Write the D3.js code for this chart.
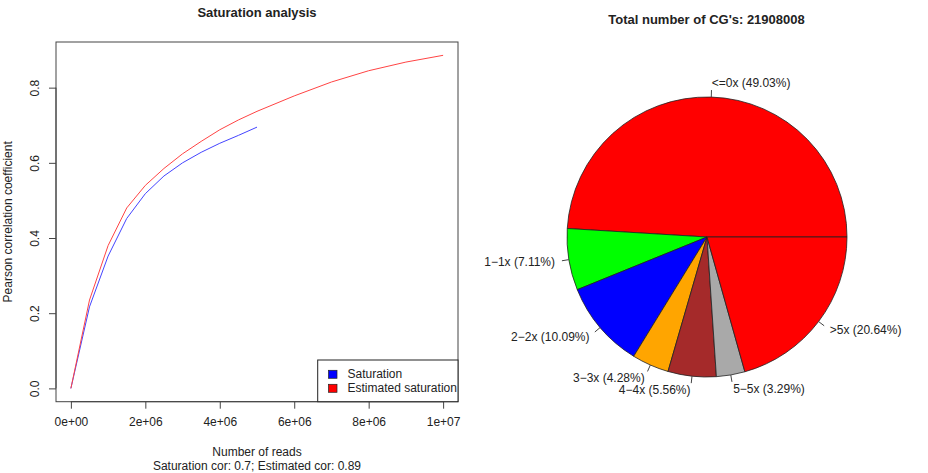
<!DOCTYPE html>
<html>
<head>
<meta charset="utf-8">
<script src="https://cdn.jsdelivr.net/npm/d3@7"></script>
<style>
  body { margin: 0; background: #fff; }
  svg text { font-family: "Liberation Sans", Arial, sans-serif; fill: #222; }
</style>
</head>
<body>
<div id="chart"></div>
<script>
// Saturation curves
const satReads = [0, 5e5, 1e6, 1.5e6, 2e6, 2.5e6, 3e6, 3.5e6, 4e6, 4.5e6, 5e6];
const satCor = [0, 0.217, 0.352, 0.452, 0.518, 0.565, 0.6, 0.628, 0.652, 0.673, 0.695];
const estReads = [0, 5e5, 1e6, 1.5e6, 2e6, 2.5e6, 3e6, 3.5e6, 4e6, 4.5e6, 5e6, 6e6, 7e6, 8e6, 9e6, 1e7];
const estCor = [0, 0.235, 0.38, 0.48, 0.54, 0.585, 0.624, 0.657, 0.688, 0.714, 0.737, 0.778, 0.815, 0.845, 0.868, 0.886];
const xTicks = [0, 2e6, 4e6, 6e6, 8e6, 1e7];
const xTickLabels = ['0e+00', '2e+06', '4e+06', '6e+06', '8e+06', '1e+07'];
const yTicks = [0, 0.2, 0.4, 0.6, 0.8];
const yTickLabels = ['0.0', '0.2', '0.4', '0.6', '0.8'];
const legendLabels = ['Saturation', 'Estimated saturation'];
const legendColors = ['#0000ff', '#ff0000'];

// Coverage pie
const pieLabels = ['<=0x', '1\u22121x', '2\u22122x', '3\u22123x', '4\u22124x', '5\u22125x', '>5x'];
const piePercents = [49.03, 7.11, 10.09, 4.28, 5.56, 3.29, 20.64];
const pieColors = ['#ff0000', '#00ff00', '#0000ff', '#ffa500', '#a52a2a', '#a9a9a9', '#ff0000'];
const totalCG = 21908008;

const width = 928, height = 473;
const svg = d3.select('#chart').append('svg')
  .attr('width', width)
  .attr('height', height);

// ---- Left panel: saturation analysis
const box = { left: 56, right: 458, top: 42, bottom: 401.7 };

// R style: 4% padding on the data range
const xMax = d3.max(estReads), yMax = d3.max(estCor);
const x = d3.scaleLinear()
  .domain([-0.04 * xMax, xMax * 1.04])
  .range([box.left, box.right]);
const y = d3.scaleLinear()
  .domain([-0.04 * yMax, yMax * 1.04])
  .range([box.bottom, box.top]);

const left = svg.append('g');

left.append('text')
  .attr('x', (box.left + box.right) / 2)
  .attr('y', 17)
  .attr('text-anchor', 'middle')
  .style('font-size', '13px')
  .style('font-weight', 'bold')
  .text('Saturation analysis');

// x axis
const xAxis = d3.axisBottom(x)
  .tickValues(xTicks)
  .tickSize(7)
  .tickPadding(9)
  .tickFormat((d, i) => xTickLabels[i]);
const gx = left.append('g')
  .attr('transform', `translate(0,${box.bottom})`)
  .call(xAxis);
gx.select('.domain').attr('d', `M${x(0)},0H${x(1e7)}`).attr('stroke', '#444');
gx.selectAll('line').attr('stroke', '#444');
gx.selectAll('text').style('font-size', '12px').style('font-family', '"Liberation Sans", Arial, sans-serif').attr('fill', '#222');

// y axis
const yAxis = d3.axisLeft(y)
  .tickValues(yTicks)
  .tickSize(7)
  .tickFormat((d, i) => yTickLabels[i]);
const gy = left.append('g')
  .attr('transform', `translate(${box.left},0)`)
  .call(yAxis);
gy.select('.domain').attr('d', `M0,${y(0)}V${y(0.8)}`).attr('stroke', '#444');
gy.selectAll('line').attr('stroke', '#444');
gy.selectAll('text')
  .attr('x', null).attr('dy', null)
  .attr('transform', 'translate(-21,0) rotate(-90)')
  .attr('text-anchor', 'middle')
  .attr('dominant-baseline', 'central')
  .attr('fill', '#222')
  .style('font-size', '12px')
  .style('font-family', '"Liberation Sans", Arial, sans-serif');

// plot box
left.append('rect')
  .attr('x', box.left).attr('y', box.top)
  .attr('width', box.right - box.left)
  .attr('height', box.bottom - box.top)
  .attr('fill', 'none')
  .attr('stroke', '#444');

const line = d3.line().x(d => x(d[0])).y(d => y(d[1]));

left.append('path')
  .datum(satReads.map((r, i) => [r, satCor[i]]))
  .attr('d', line)
  .attr('fill', 'none')
  .attr('stroke', '#4444ff')
  .attr('stroke-width', 1);

left.append('path')
  .datum(estReads.map((r, i) => [r, estCor[i]]))
  .attr('d', line)
  .attr('fill', 'none')
  .attr('stroke', '#ff4444')
  .attr('stroke-width', 1);

// legend
const legend = left.append('g');
legend.append('rect')
  .attr('x', 317.7).attr('y', 360)
  .attr('width', box.right - 317.7)
  .attr('height', box.bottom - 360)
  .attr('fill', '#fff')
  .attr('stroke', '#222');
legendLabels.forEach((lab, i) => {
  const cy = 374.3 + i * 14;
  legend.append('rect')
    .attr('x', 328.5).attr('y', cy - 4)
    .attr('width', 8.5).attr('height', 8)
    .attr('fill', legendColors[i])
    .attr('stroke', '#222')
    .attr('stroke-width', 0.7);
  legend.append('text')
    .attr('x', 347.5).attr('y', cy)
    .attr('dominant-baseline', 'central')
    .style('font-size', '12px')
    .text(lab);
});

// axis titles
left.append('text')
  .attr('x', (box.left + box.right) / 2)
  .attr('y', 452)
  .attr('text-anchor', 'middle')
  .attr('dominant-baseline', 'central')
  .style('font-size', '12px')
  .text('Number of reads');
left.append('text')
  .attr('x', (box.left + box.right) / 2)
  .attr('y', 466)
  .attr('text-anchor', 'middle')
  .attr('dominant-baseline', 'central')
  .style('font-size', '12px')
  .text(`Saturation cor: ${d3.max(satCor).toFixed(1)}; Estimated cor: ${d3.max(estCor).toFixed(2)}`);
left.append('text')
  .attr('transform', `translate(8,${(box.top + box.bottom) / 2}) rotate(-90)`)
  .attr('text-anchor', 'middle')
  .attr('dominant-baseline', 'central')
  .style('font-size', '12px')
  .text('Pearson correlation coefficient');

// ---- Right panel: pie chart (R style: counterclockwise from 3 o'clock)
const cx = 707, cy = 237, r = 140;
const right = svg.append('g').attr('transform', `translate(${cx},${cy})`);

svg.append('text')
  .attr('x', 706.5)
  .attr('y', 24)
  .attr('text-anchor', 'middle')
  .style('font-size', '13px')
  .style('font-weight', 'bold')
  .text(`Total number of CG's: ${totalCG}`);

const pie = d3.pie()
  .sort(null)
  .value(d => d)
  .startAngle(Math.PI / 2)
  .endAngle(Math.PI / 2 - 2 * Math.PI);
const arcs = pie(piePercents);
const arc = d3.arc().innerRadius(0).outerRadius(r);

right.selectAll('path.slice')
  .data(arcs)
  .join('path')
  .attr('class', 'slice')
  .attr('d', arc)
  .attr('fill', (d, i) => pieColors[i])
  .attr('stroke', '#222')
  .attr('stroke-width', 0.8);

arcs.forEach((d, i) => {
  const a = (d.startAngle + d.endAngle) / 2;
  const sx = Math.sin(a), sy = -Math.cos(a);
  right.append('line')
    .attr('x1', r * sx).attr('y1', r * sy)
    .attr('x2', 1.05 * r * sx).attr('y2', 1.05 * r * sy)
    .attr('stroke', '#444');
  right.append('text')
    .attr('x', 1.1 * r * sx)
    .attr('y', 1.1 * r * sy)
    .attr('text-anchor', sx >= 0 ? 'start' : 'end')
    .attr('dominant-baseline', 'central')
    .style('font-size', '12px')
    .text(`${pieLabels[i]} (${piePercents[i].toFixed(2)}%)`);
});
</script>
</body>
</html>
